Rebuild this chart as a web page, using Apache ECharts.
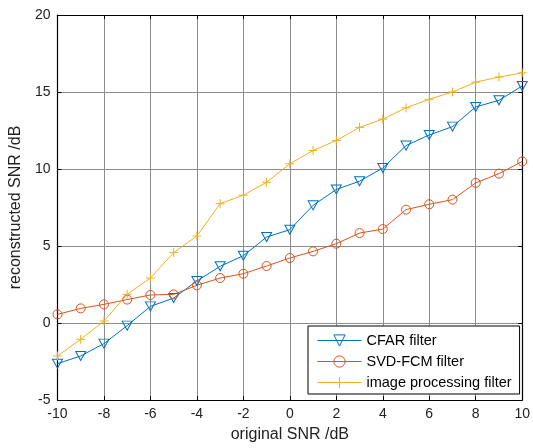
<!DOCTYPE html>
<html><head><meta charset="utf-8">
<script src="https://cdn.jsdelivr.net/npm/echarts@6/dist/echarts.min.js"></script>
<style>html,body{margin:0;padding:0;background:#fff}#c{width:533px;height:448px}</style>
</head><body><div id="c"></div>
<script>
const snr = [-10,-9,-8,-7,-6,-5,-4,-3,-2,-1,0,1,2,3,4,5,6,7,8,9,10];
const cfar = [-2.64,-2.14,-1.34,-0.17,1.08,1.62,2.73,3.68,4.37,5.58,6.06,7.64,8.67,9.21,10.06,11.52,12.21,12.75,14.03,14.46,15.39];
const svdfcm = [0.56,0.95,1.21,1.52,1.82,1.86,2.45,2.92,3.20,3.70,4.22,4.65,5.15,5.84,6.10,7.36,7.71,8.01,9.10,9.70,10.49];
const imgproc = [-2.14,-1.06,0.13,1.86,2.92,4.57,5.65,7.75,8.30,9.14,10.34,11.20,11.85,12.70,13.24,13.97,14.53,15.00,15.64,15.97,16.24];
const xTicks = [-10,-8,-6,-4,-2,0,2,4,6,8,10];
const yTicks = [-5,0,5,10,15,20];
const names = ['CFAR filter','SVD-FCM filter','image processing filter'];
const colors = ['#0072BD','#D95319','#EDB120'];

const font = 'Liberation Sans, Arial, sans-serif';
function pairs(v){ return snr.map((x,i)=>[x,v[i]]); }
const chart = echarts.init(document.getElementById('c'), null, {renderer:'canvas'});
const baseAxis = {
  axisLine:{show:true,onZero:false,lineStyle:{color:'#000',width:1.2}},
  axisTick:{show:true,inside:true,length:4,lineStyle:{color:'#000'}},
};
chart.setOption({
  animation:false,
  backgroundColor:'#fff',
  grid:{left:57,right:8,top:15,bottom:47,containLabel:false},
  xAxis:[
    Object.assign({}, baseAxis, {type:'value',min:-10,max:10,interval:2,position:'bottom',
      axisLabel:{color:'#222',fontSize:14,fontFamily:font,margin:7},
      splitLine:{show:true,lineStyle:{color:'#8c8c8c',width:1}},
      name:'original SNR /dB',nameLocation:'middle',nameGap:27,
      nameTextStyle:{color:'#222',fontSize:16,fontFamily:font}}),
    Object.assign({}, baseAxis, {type:'value',min:-10,max:10,interval:2,position:'top',
      axisLabel:{show:false},splitLine:{show:false}})
  ],
  yAxis:[
    Object.assign({}, baseAxis, {type:'value',min:-5,max:20,interval:5,position:'left',
      axisLabel:{color:'#222',fontSize:14,fontFamily:font,margin:7},
      splitLine:{show:true,lineStyle:{color:'#8c8c8c',width:1}},
      name:'reconstructed SNR /dB',nameLocation:'middle',nameGap:30,
      nameTextStyle:{color:'#222',fontSize:16,fontFamily:font}}),
    Object.assign({}, baseAxis, {type:'value',min:-5,max:20,interval:5,position:'right',
      axisLabel:{show:false},splitLine:{show:false}})
  ],
  legend:{
    orient:'vertical',left:308,top:326,
    data:names,
    backgroundColor:'#fff',borderColor:'#000',borderWidth:1,borderRadius:0,
    padding:[7,8,4,9],itemWidth:44,itemHeight:14,itemGap:6,
    itemStyle:{borderWidth:1},
    lineStyle:{width:1},
    textStyle:{color:'#000',fontSize:14.5,fontFamily:font}
  },
  series:[
    {name:names[0],type:'line',data:pairs(cfar),symbol:'triangle',symbolRotate:180,symbolSize:[10,9],
      color:colors[0],lineStyle:{color:colors[0],width:1},
      itemStyle:{color:'rgba(255,255,255,0)',borderColor:colors[0],borderWidth:1}, z:3},
    {name:names[1],type:'line',data:pairs(svdfcm),symbol:'circle',symbolSize:9,
      color:colors[1],lineStyle:{color:colors[1],width:1},
      itemStyle:{color:'rgba(255,255,255,0)',borderColor:colors[1],borderWidth:1}, z:3},
    {name:names[2],type:'line',data:pairs(imgproc),symbol:'path://M0,5L10,5M5,0L5,10',symbolSize:9,
      color:colors[2],lineStyle:{color:colors[2],width:1},
      itemStyle:{color:'rgba(255,255,255,0)',borderColor:colors[2],borderWidth:1}, z:3}
  ]
});
</script></body></html>
